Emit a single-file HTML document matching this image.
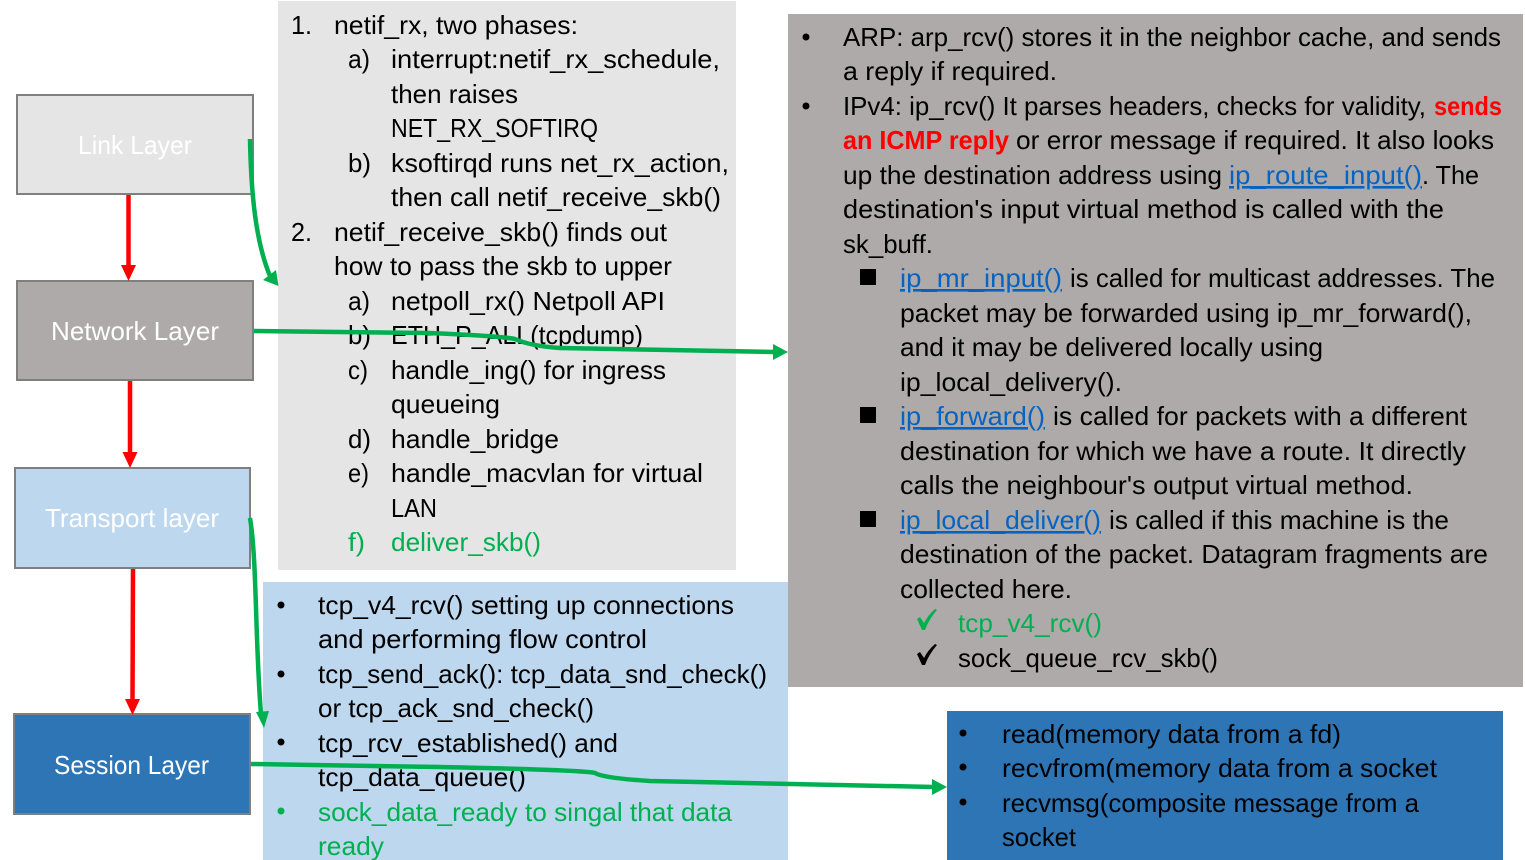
<!DOCTYPE html>
<html><head><meta charset="utf-8"><style>
html,body{margin:0;padding:0;background:#fff}
svg{display:block}
text{font-family:"Liberation Sans",sans-serif;font-size:26px;fill:#000}
.g{fill:#00b050}.r{fill:#f00;font-weight:bold}.l{fill:#0563c1;text-decoration:underline}.w{fill:#fff}
</style></head><body>
<svg width="1525" height="860" viewBox="0 0 1525 860" xmlns="http://www.w3.org/2000/svg">
<rect x="278" y="1" width="458" height="569" fill="#e5e5e5"/>
<rect x="788" y="14" width="735" height="673" fill="#aeaaaa"/>
<rect x="263" y="582" width="525" height="278" fill="#bdd7ee"/>
<rect x="947" y="711" width="556" height="149" fill="#2e75b6"/>
<g stroke="#7f7f7f" stroke-width="2">
<rect x="17" y="95" width="236" height="99" fill="#e5e5e5"/>
<rect x="17" y="281" width="236" height="99" fill="#aeaaaa"/>
<rect x="15" y="468" width="235" height="100" fill="#bdd7ee"/>
<rect x="14" y="714" width="236" height="100" fill="#2e75b6"/>
</g>
<g>
<text class="w" x="78" y="154" textLength="114" lengthAdjust="spacingAndGlyphs">Link Layer</text>
<text class="w" x="51" y="340" textLength="168" lengthAdjust="spacingAndGlyphs">Network Layer</text>
<text class="w" x="45" y="527" textLength="174" lengthAdjust="spacingAndGlyphs">Transport layer</text>
<text class="w" x="54" y="774" textLength="155" lengthAdjust="spacingAndGlyphs">Session Layer</text>

<text x="291" y="34" textLength="21" lengthAdjust="spacingAndGlyphs">1.</text>
<text x="334" y="34" textLength="244" lengthAdjust="spacingAndGlyphs">netif_rx, two phases:</text>
<text x="348" y="68" textLength="22" lengthAdjust="spacingAndGlyphs">a)</text>
<text x="391" y="68" textLength="329" lengthAdjust="spacingAndGlyphs">interrupt:netif_rx_schedule,</text>
<text x="391" y="103" textLength="127" lengthAdjust="spacingAndGlyphs">then raises</text>
<text x="391" y="137" textLength="207" lengthAdjust="spacingAndGlyphs">NET_RX_SOFTIRQ</text>
<text x="348" y="172" textLength="23" lengthAdjust="spacingAndGlyphs">b)</text>
<text x="391" y="172" textLength="338" lengthAdjust="spacingAndGlyphs">ksoftirqd runs net_rx_action,</text>
<text x="391" y="206" textLength="330" lengthAdjust="spacingAndGlyphs">then call netif_receive_skb()</text>
<text x="291" y="241" textLength="21" lengthAdjust="spacingAndGlyphs">2.</text>
<text x="334" y="241" textLength="333" lengthAdjust="spacingAndGlyphs">netif_receive_skb() finds out</text>
<text x="334" y="275" textLength="338" lengthAdjust="spacingAndGlyphs">how to pass the skb to upper</text>
<text x="348" y="310" textLength="22" lengthAdjust="spacingAndGlyphs">a)</text>
<text x="391" y="310" textLength="274" lengthAdjust="spacingAndGlyphs">netpoll_rx() Netpoll API</text>
<text x="348" y="344" textLength="23" lengthAdjust="spacingAndGlyphs">b)</text>
<text x="391" y="344" textLength="252" lengthAdjust="spacingAndGlyphs">ETH_P_ALL(tcpdump)</text>
<text x="348" y="379" textLength="20" lengthAdjust="spacingAndGlyphs">c)</text>
<text x="391" y="379" textLength="275" lengthAdjust="spacingAndGlyphs">handle_ing() for ingress</text>
<text x="391" y="413" textLength="109" lengthAdjust="spacingAndGlyphs">queueing</text>
<text x="348" y="448" textLength="23" lengthAdjust="spacingAndGlyphs">d)</text>
<text x="391" y="448" textLength="168" lengthAdjust="spacingAndGlyphs">handle_bridge</text>
<text x="348" y="482" textLength="21" lengthAdjust="spacingAndGlyphs">e)</text>
<text x="391" y="482" textLength="312" lengthAdjust="spacingAndGlyphs">handle_macvlan for virtual</text>
<text x="391" y="517" textLength="46" lengthAdjust="spacingAndGlyphs">LAN</text>
<text class="g" x="348" y="551" textLength="17" lengthAdjust="spacingAndGlyphs">f)</text>
<text class="g" x="391" y="551" textLength="150" lengthAdjust="spacingAndGlyphs">deliver_skb()</text>

<text x="843" y="46" textLength="658" lengthAdjust="spacingAndGlyphs">ARP: arp_rcv() stores it in the neighbor cache, and sends</text>
<text x="843" y="80" textLength="214" lengthAdjust="spacingAndGlyphs">a reply if required.</text>
<text x="843" y="115" textLength="583" lengthAdjust="spacingAndGlyphs">IPv4: ip_rcv() It parses headers, checks for validity,</text>
<text class="r" x="1434" y="115" textLength="68" lengthAdjust="spacingAndGlyphs">sends</text>
<text class="r" x="843" y="149" textLength="166" lengthAdjust="spacingAndGlyphs">an ICMP reply</text>
<text x="1016" y="149" textLength="478" lengthAdjust="spacingAndGlyphs">or error message if required. It also looks</text>
<text x="843" y="184" textLength="379" lengthAdjust="spacingAndGlyphs">up the destination address using</text>
<text class="l" x="1229" y="184" textLength="193" lengthAdjust="spacingAndGlyphs">ip_route_input()</text>
<text x="1422" y="184" textLength="57" lengthAdjust="spacingAndGlyphs">. The</text>
<text x="843" y="218" textLength="601" lengthAdjust="spacingAndGlyphs">destination's input virtual method is called with the</text>
<text x="843" y="253" textLength="90" lengthAdjust="spacingAndGlyphs">sk_buff.</text>
<text class="l" x="900" y="287" textLength="162" lengthAdjust="spacingAndGlyphs">ip_mr_input()</text>
<text x="1070" y="287" textLength="425" lengthAdjust="spacingAndGlyphs">is called for multicast addresses. The</text>
<text x="900" y="322" textLength="572" lengthAdjust="spacingAndGlyphs">packet may be forwarded using ip_mr_forward(),</text>
<text x="900" y="356" textLength="423" lengthAdjust="spacingAndGlyphs">and it may be delivered locally using</text>
<text x="900" y="391" textLength="222" lengthAdjust="spacingAndGlyphs">ip_local_delivery().</text>
<text class="l" x="900" y="425" textLength="145" lengthAdjust="spacingAndGlyphs">ip_forward()</text>
<text x="1053" y="425" textLength="414" lengthAdjust="spacingAndGlyphs">is called for packets with a different</text>
<text x="900" y="460" textLength="566" lengthAdjust="spacingAndGlyphs">destination for which we have a route. It directly</text>
<text x="900" y="494" textLength="513" lengthAdjust="spacingAndGlyphs">calls the neighbour's output virtual method.</text>
<text class="l" x="900" y="529" textLength="201" lengthAdjust="spacingAndGlyphs">ip_local_deliver()</text>
<text x="1109" y="529" textLength="340" lengthAdjust="spacingAndGlyphs">is called if this machine is the</text>
<text x="900" y="563" textLength="588" lengthAdjust="spacingAndGlyphs">destination of the packet. Datagram fragments are</text>
<text x="900" y="598" textLength="172" lengthAdjust="spacingAndGlyphs">collected here.</text>
<text class="g" x="958" y="632" textLength="144" lengthAdjust="spacingAndGlyphs">tcp_v4_rcv()</text>
<text x="958" y="667" textLength="260" lengthAdjust="spacingAndGlyphs">sock_queue_rcv_skb()</text>

<text x="318" y="614" textLength="416" lengthAdjust="spacingAndGlyphs">tcp_v4_rcv() setting up connections</text>
<text x="318" y="648" textLength="329" lengthAdjust="spacingAndGlyphs">and performing flow control</text>
<text x="318" y="683" textLength="449" lengthAdjust="spacingAndGlyphs">tcp_send_ack(): tcp_data_snd_check()</text>
<text x="318" y="717" textLength="276" lengthAdjust="spacingAndGlyphs">or tcp_ack_snd_check()</text>
<text x="318" y="752" textLength="300" lengthAdjust="spacingAndGlyphs">tcp_rcv_established() and</text>
<text x="318" y="786" textLength="208" lengthAdjust="spacingAndGlyphs">tcp_data_queue()</text>
<text class="g" x="318" y="821" textLength="414" lengthAdjust="spacingAndGlyphs">sock_data_ready to singal that data</text>
<text class="g" x="318" y="855" textLength="66" lengthAdjust="spacingAndGlyphs">ready</text>

<text x="1002" y="743" textLength="339" lengthAdjust="spacingAndGlyphs">read(memory data from a fd)</text>
<text x="1002" y="777" textLength="435" lengthAdjust="spacingAndGlyphs">recvfrom(memory data from a socket</text>
<text x="1002" y="812" textLength="417" lengthAdjust="spacingAndGlyphs">recvmsg(composite message from a</text>
<text x="1002" y="846" textLength="74" lengthAdjust="spacingAndGlyphs">socket</text>
</g>
<g fill="#000">
<circle cx="806" cy="37" r="3.5"/><circle cx="806" cy="106" r="3.5"/>
<circle cx="281" cy="605" r="3.5"/><circle cx="281" cy="674" r="3.5"/><circle cx="281" cy="742" r="3.5"/>
<circle cx="963" cy="733" r="3.5"/><circle cx="963" cy="767" r="3.5"/><circle cx="963" cy="802" r="3.5"/>
<rect x="860" y="269" width="16" height="16"/><rect x="860" y="407" width="16" height="16"/><rect x="860" y="511" width="16" height="16"/>
</g>
<circle cx="281" cy="811" r="3.5" fill="#00b050"/>
<path d="M917,619 L920,617 L924,623 Q928,615 935,609 L937,610 Q929,619 925,630 L922,630 Z" fill="#00b050"/>
<path d="M917,654 L920,652 L924,658 Q928,650 935,644 L937,645 Q929,654 925,665 L922,665 Z" fill="#000"/>
<g stroke="#f00" stroke-width="4.500" fill="none">
<path d="M128.500,195V266"/><path d="M130,381V453"/><path d="M133,569L132.500,700"/>
</g>
<g fill="#f00">
<path d="M121,265H136L128.500,281Z"/><path d="M122.500,452H137.500L130,468Z"/><path d="M125,699H140L132.500,715Z"/>
</g>
<g stroke="#00b050" stroke-width="4.500" fill="none">
<path d="M250,139 C251,190 255,240 270,276"/>
<path d="M254,331 L430,333 Q500,336 515,339 Q530,346 560,348 L775,352"/>
<path d="M250,518 C257,560 255,640 261,714"/>
<path d="M251,764 L440,767 Q585,770 595,773 Q603,778 650,781 L934,787"/>
</g>
<g fill="#00b050">
<path d="M278.500,286 L263,280 L276,270Z"/>
<path d="M788,352 L773,344 L773,360Z"/>
<path d="M264,728 L256,712 L269,711Z"/>
<path d="M947,787 L932,779 L932,795Z"/>
</g>
</svg>
</body></html>
